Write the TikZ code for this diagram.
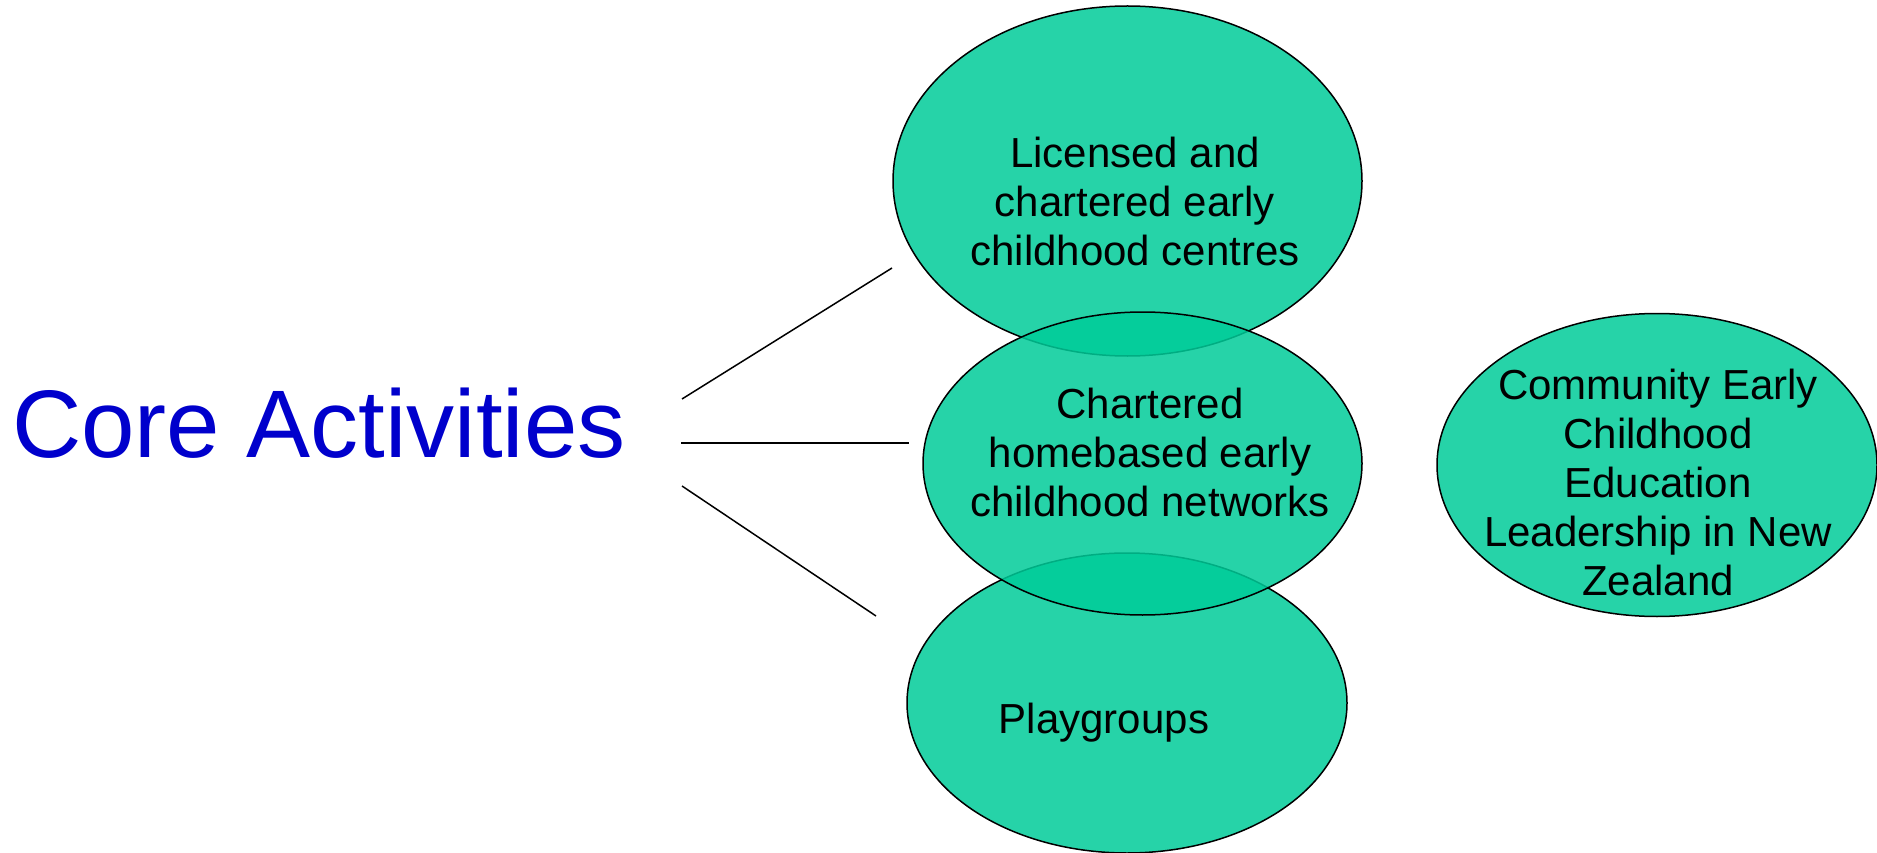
\documentclass[tikz,border=0pt]{standalone}
\usepackage{fontspec}
\setmainfont{Liberation Sans}
\usetikzlibrary{shapes.geometric}
\definecolor{bubble}{RGB}{0,204,153}
\definecolor{titleblue}{RGB}{0,0,204}
\begin{document}
\begin{tikzpicture}[x=1pt,y=-1pt,
  bubble/.style={ellipse,draw=black,line width=1.5pt,fill=bubble,fill opacity=0.85,inner sep=0pt},
  bubbletext/.style={align=center,font=\fontsize{42}{49}\selectfont,text=black,inner sep=0pt},
  spoke/.style={draw=black,line width=1.5pt}]
  \path[use as bounding box,fill=white] (0,0) rectangle (1877,853);

  % bubbles: the middle one goes last so its outline stays on top
  \node[bubble,minimum width=469pt,minimum height=350pt] (centres) at (1127.5,181) {};
  \node[bubble,minimum width=440pt,minimum height=300pt] (play) at (1127,703) {};
  \node[bubble,minimum width=439pt,minimum height=303pt] (home) at (1142.5,463.5) {};
  \node[bubble,minimum width=440pt,minimum height=303pt] (community) at (1657,465) {};

  \node[bubbletext] (centrestext) at (1135,201) {Licensed and\\chartered early\\childhood centres};
  \node[bubbletext] (hometext) at (1150,452) {Chartered\\homebased early\\childhood networks};
  \node[bubbletext] (playtext) at (1104,723) {Playgroups};
  \node[bubbletext] (communitytext) at (1658,482) {Community Early\\Childhood\\Education\\Leadership in New\\Zealand};

  % title
  \node[anchor=base west,inner sep=0pt,text=titleblue,font=\fontsize{96}{115}\selectfont] (core) at (12,457) {Core Activities};

  % spokes
  \coordinate (s1a) at (682,399);
  \coordinate (s1b) at (892,268);
  \coordinate (s2a) at (681,443);
  \coordinate (s2b) at (909,443);
  \coordinate (s3a) at (682,486);
  \coordinate (s3b) at (876,616);
  \draw[spoke] (s1a) -- (s1b);
  \draw[spoke] (s2a) -- (s2b);
  \draw[spoke] (s3a) -- (s3b);
\end{tikzpicture}
\end{document}
